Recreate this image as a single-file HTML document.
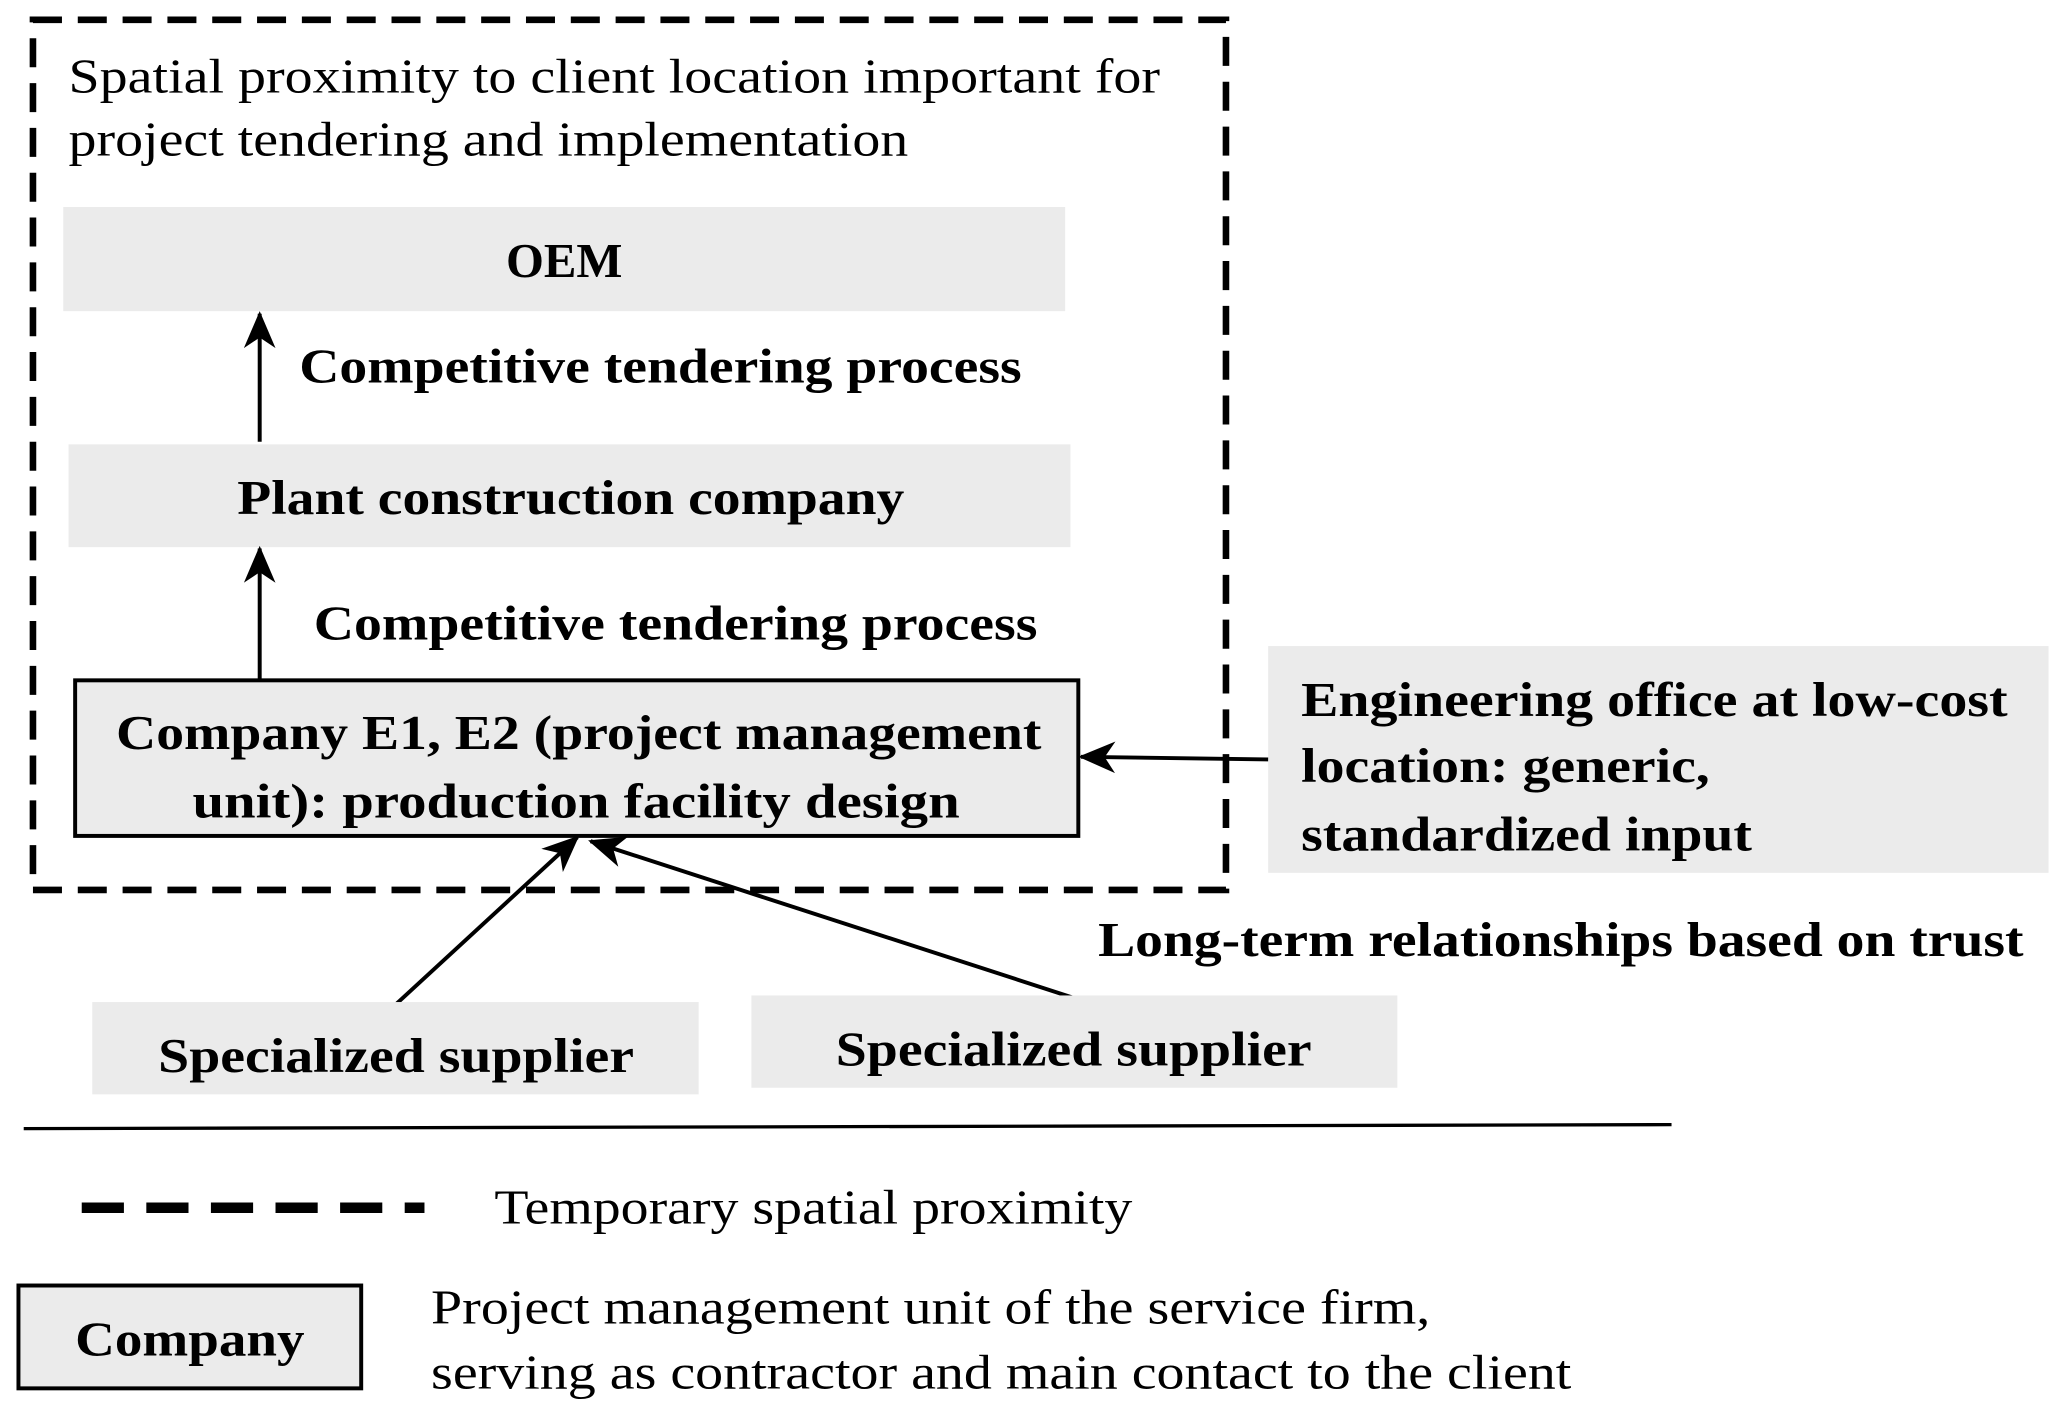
<!DOCTYPE html>
<html><head><meta charset="utf-8"><style>
html,body{margin:0;padding:0;background:#fff;}
svg{display:block;}
text{font-family:"Liberation Serif","Times New Roman",serif;fill:#000;}
.b{font-weight:bold;font-size:37px;}
.r{font-size:37px;}
</style></head><body>
<svg width="2067" height="1420" viewBox="0 0 1568 1077" preserveAspectRatio="none" xmlns="http://www.w3.org/2000/svg">
<defs>
<marker id="ah" viewBox="0 0 28 24" refX="26" refY="12" markerWidth="28" markerHeight="24" markerUnits="userSpaceOnUse" orient="auto">
<path d="M0,0 L28,12 L0,24 L8,12 Z" fill="#000"/>
</marker>
</defs>
<rect x="25" y="15" width="905" height="660" fill="none" stroke="#000" stroke-width="5" stroke-dasharray="22,12"/>
<text class="r" x="52" y="70" textLength="828" lengthAdjust="spacingAndGlyphs">Spatial proximity to client location important for</text>
<text class="r" x="52" y="118" textLength="637" lengthAdjust="spacingAndGlyphs">project tendering and implementation</text>

<rect x="48" y="157" width="760" height="79" fill="#ebebeb"/>
<text class="b" x="428" y="210" text-anchor="middle">OEM</text>
<line x1="197" y1="335" x2="197" y2="238" stroke="#000" stroke-width="3" marker-end="url(#ah)"/>
<text class="b" x="227" y="290" textLength="548" lengthAdjust="spacingAndGlyphs">Competitive tendering process</text>

<rect x="52" y="337" width="760" height="78" fill="#ebebeb"/>
<text class="b" x="180" y="390" textLength="506" lengthAdjust="spacingAndGlyphs">Plant construction company</text>
<line x1="197" y1="515" x2="197" y2="416" stroke="#000" stroke-width="3" marker-end="url(#ah)"/>
<text class="b" x="238" y="485" textLength="549" lengthAdjust="spacingAndGlyphs">Competitive tendering process</text>

<rect x="57" y="516" width="761" height="118" fill="#ebebeb" stroke="#000" stroke-width="3"/>
<text class="b" x="88" y="568" textLength="702" lengthAdjust="spacingAndGlyphs">Company E1, E2 (project management</text>
<text class="b" x="146" y="620" textLength="582" lengthAdjust="spacingAndGlyphs">unit): production facility  design</text>

<rect x="962" y="490" width="592" height="172" fill="#ebebeb"/>
<text class="b" x="987" y="543" textLength="536" lengthAdjust="spacingAndGlyphs">Engineering office at low-cost</text>
<text class="b" x="987" y="593" textLength="310" lengthAdjust="spacingAndGlyphs">location: generic,</text>
<text class="b" x="987" y="645" textLength="342" lengthAdjust="spacingAndGlyphs">standardized input</text>
<line x1="962" y1="576" x2="820" y2="574" stroke="#000" stroke-width="3" marker-end="url(#ah)"/>

<line x1="300" y1="762" x2="438" y2="635" stroke="#000" stroke-width="3" marker-end="url(#ah)"/>
<line x1="815" y1="757" x2="448" y2="638" stroke="#000" stroke-width="3" marker-end="url(#ah)"/>
<text class="b" x="833" y="725" textLength="702" lengthAdjust="spacingAndGlyphs">Long-term relationships based on trust</text>

<rect x="70" y="760" width="460" height="70" fill="#ebebeb"/>
<text class="b" x="120" y="813" textLength="361" lengthAdjust="spacingAndGlyphs">Specialized supplier</text>
<rect x="570" y="755" width="490" height="70" fill="#ebebeb"/>
<text class="b" x="634" y="808" textLength="361" lengthAdjust="spacingAndGlyphs">Specialized supplier</text>

<line x1="18" y1="856" x2="1268" y2="853" stroke="#000" stroke-width="2.5"/>
<line x1="62" y1="916" x2="322" y2="916" stroke="#000" stroke-width="8" stroke-dasharray="32,17"/>
<text class="r" x="375" y="928" textLength="484" lengthAdjust="spacingAndGlyphs">Temporary spatial proximity</text>

<rect x="14" y="975" width="260" height="78" fill="#ebebeb" stroke="#000" stroke-width="3"/>
<text class="b" x="144" y="1028" text-anchor="middle" textLength="174" lengthAdjust="spacingAndGlyphs">Company</text>
<text class="r" x="327" y="1004" textLength="758" lengthAdjust="spacingAndGlyphs">Project management unit of the service firm,</text>
<text class="r" x="327" y="1053" textLength="865" lengthAdjust="spacingAndGlyphs">serving as contractor and main contact to the client</text>
</svg>
</body></html>
